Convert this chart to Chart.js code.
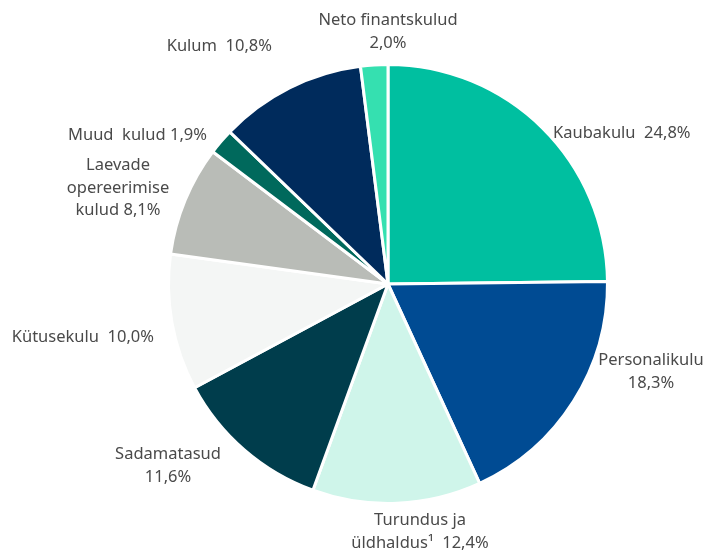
<!DOCTYPE html>
<html>
<head>
<meta charset="utf-8">
<script src="https://cdn.jsdelivr.net/npm/chart.js@4.4.0/dist/chart.umd.min.js"></script>
<style>
  html, body { margin: 0; padding: 0; background: #fff; }
  #wrap { width: 705px; height: 551px; }
</style>
</head>
<body>
<div id="wrap"><canvas id="pie" width="705" height="551"></canvas></div>
<script>
// data, clockwise from 12 o'clock
const categories = ['Kaubakulu', 'Personalikulu', 'Turundus ja üldhaldus¹', 'Sadamatasud', 'Kütusekulu',
  'Laevade opereerimise kulud', 'Muud kulud', 'Kulum', 'Neto finantskulud'];
const shares = [24.8, 18.3, 12.4, 11.6, 10.0, 8.1, 1.9, 10.8, 2.0];
const sliceColors = ['#00bfa0', '#004b93', '#cff5ea', '#003d4c', '#f4f6f5', '#b9bcb7', '#00695c', '#002b5c', '#35e0b0'];

// how each label is broken into lines ({v} = value)
const labelLines = [
  ['Kaubakulu  {v}'],
  ['Personalikulu', '{v}'],
  ['Turundus ja', 'üldhaldus¹  {v}'],
  ['Sadamatasud', '{v}'],
  ['Kütusekulu  {v}'],
  ['Laevade', 'opereerimise', 'kulud {v}'],
  ['Muud  kulud {v}'],
  ['Kulum  {v}'],
  ['Neto finantskulud', '{v}']
];
// label anchor offsets relative to pie centre, and alignment
const labelPos = [
  {dx: 165, dy: -151, align: 'left'},
  {dx: 263, dy: 88, align: 'center'},
  {dx: 32, dy: 248, align: 'center'},
  {dx: -220, dy: 182, align: 'center'},
  {dx: -234, dy: 53, align: 'right'},
  {dx: -270, dy: -96, align: 'center'},
  {dx: -181, dy: -149, align: 'right'},
  {dx: -116, dy: -238, align: 'right'},
  {dx: 0, dy: -252, align: 'center'}
];

const fmt = v => v.toFixed(1).replace('.', ',') + '%';

const outsideLabels = {
  id: 'outsideLabels',
  afterDraw(chart) {
    const ctx = chart.ctx;
    const arc = chart.getDatasetMeta(0).data[0];
    const cx = arc.x, cy = arc.y;
    ctx.save();
    ctx.font = '16.5px "Noto Sans", sans-serif';
    ctx.fillStyle = '#4a4a4a';
    ctx.textBaseline = 'middle';
    labelLines.forEach((lines, i) => {
      const p = labelPos[i];
      ctx.textAlign = p.align;
      const lh = 22.5;
      const y0 = cy + p.dy - (lines.length - 1) * lh / 2;
      lines.forEach((ln, j) => {
        ctx.fillText(ln.replace('{v}', fmt(shares[i])), cx + p.dx, y0 + j * lh);
      });
    });
    ctx.restore();
  }
};

new Chart(document.getElementById('pie'), {
  type: 'pie',
  data: {
    labels: categories,
    datasets: [{
      data: shares,
      backgroundColor: sliceColors,
      borderColor: '#ffffff',
      borderWidth: 3,
      hoverOffset: 0
    }]
  },
  options: {
    responsive: false,
    animation: false,
    layout: { padding: { top: 63, bottom: 46, left: 167, right: 96 } },
    plugins: {
      legend: { display: false },
      tooltip: { enabled: false }
    }
  },
  plugins: [outsideLabels]
});
</script>
</body>
</html>
